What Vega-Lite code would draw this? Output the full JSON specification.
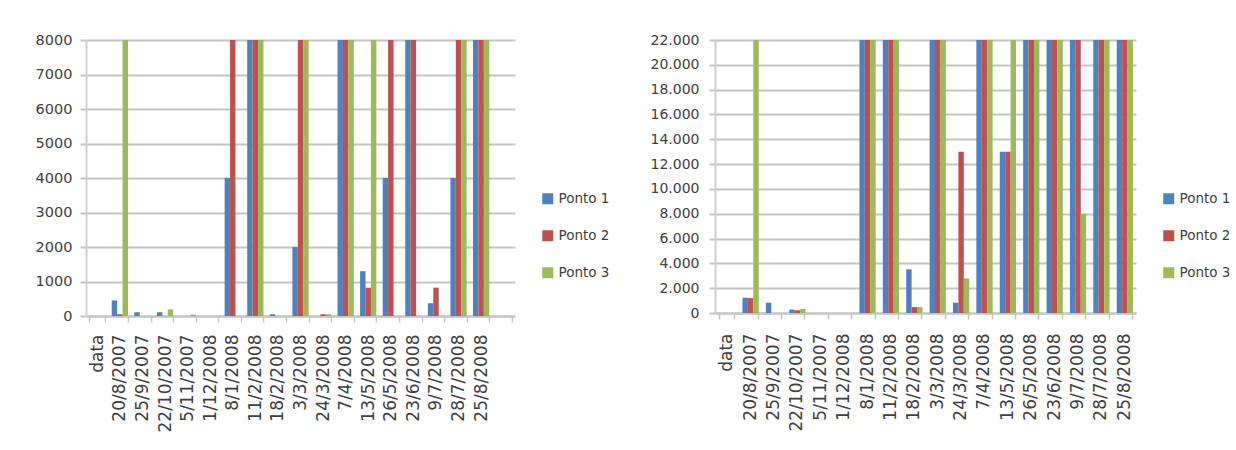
{
  "$schema": "https://vega.github.io/schema/vega-lite/v6.json",
  "background": "white",
  "padding": {"left": 35, "top": 32, "right": 0, "bottom": 0},
  "datasets": {
    "left": [
      {"dt": "data", "ponto": "Ponto 1", "valor": 0}, {"dt": "data", "ponto": "Ponto 2", "valor": 0}, {"dt": "data", "ponto": "Ponto 3", "valor": 0},
      {"dt": "20/8/2007", "ponto": "Ponto 1", "valor": 450}, {"dt": "20/8/2007", "ponto": "Ponto 2", "valor": 50}, {"dt": "20/8/2007", "ponto": "Ponto 3", "valor": 8000},
      {"dt": "25/9/2007", "ponto": "Ponto 1", "valor": 110}, {"dt": "25/9/2007", "ponto": "Ponto 2", "valor": 0}, {"dt": "25/9/2007", "ponto": "Ponto 3", "valor": 0},
      {"dt": "22/10/2007", "ponto": "Ponto 1", "valor": 110}, {"dt": "22/10/2007", "ponto": "Ponto 2", "valor": 0}, {"dt": "22/10/2007", "ponto": "Ponto 3", "valor": 190},
      {"dt": "5/11/2007", "ponto": "Ponto 1", "valor": 0}, {"dt": "5/11/2007", "ponto": "Ponto 2", "valor": 0}, {"dt": "5/11/2007", "ponto": "Ponto 3", "valor": 40},
      {"dt": "1/12/2008", "ponto": "Ponto 1", "valor": 0}, {"dt": "1/12/2008", "ponto": "Ponto 2", "valor": 0}, {"dt": "1/12/2008", "ponto": "Ponto 3", "valor": 0},
      {"dt": "8/1/2008", "ponto": "Ponto 1", "valor": 4000}, {"dt": "8/1/2008", "ponto": "Ponto 2", "valor": 8000}, {"dt": "8/1/2008", "ponto": "Ponto 3", "valor": 0},
      {"dt": "11/2/2008", "ponto": "Ponto 1", "valor": 8000}, {"dt": "11/2/2008", "ponto": "Ponto 2", "valor": 8000}, {"dt": "11/2/2008", "ponto": "Ponto 3", "valor": 8000},
      {"dt": "18/2/2008", "ponto": "Ponto 1", "valor": 50}, {"dt": "18/2/2008", "ponto": "Ponto 2", "valor": 0}, {"dt": "18/2/2008", "ponto": "Ponto 3", "valor": 0},
      {"dt": "3/3/2008", "ponto": "Ponto 1", "valor": 2000}, {"dt": "3/3/2008", "ponto": "Ponto 2", "valor": 8000}, {"dt": "3/3/2008", "ponto": "Ponto 3", "valor": 8000},
      {"dt": "24/3/2008", "ponto": "Ponto 1", "valor": 0}, {"dt": "24/3/2008", "ponto": "Ponto 2", "valor": 50}, {"dt": "24/3/2008", "ponto": "Ponto 3", "valor": 50},
      {"dt": "7/4/2008", "ponto": "Ponto 1", "valor": 8000}, {"dt": "7/4/2008", "ponto": "Ponto 2", "valor": 8000}, {"dt": "7/4/2008", "ponto": "Ponto 3", "valor": 8000},
      {"dt": "13/5/2008", "ponto": "Ponto 1", "valor": 1300}, {"dt": "13/5/2008", "ponto": "Ponto 2", "valor": 820}, {"dt": "13/5/2008", "ponto": "Ponto 3", "valor": 8000},
      {"dt": "26/5/2008", "ponto": "Ponto 1", "valor": 4000}, {"dt": "26/5/2008", "ponto": "Ponto 2", "valor": 8000}, {"dt": "26/5/2008", "ponto": "Ponto 3", "valor": 0},
      {"dt": "23/6/2008", "ponto": "Ponto 1", "valor": 8000}, {"dt": "23/6/2008", "ponto": "Ponto 2", "valor": 8000}, {"dt": "23/6/2008", "ponto": "Ponto 3", "valor": 0},
      {"dt": "9/7/2008", "ponto": "Ponto 1", "valor": 370}, {"dt": "9/7/2008", "ponto": "Ponto 2", "valor": 820}, {"dt": "9/7/2008", "ponto": "Ponto 3", "valor": 0},
      {"dt": "28/7/2008", "ponto": "Ponto 1", "valor": 4000}, {"dt": "28/7/2008", "ponto": "Ponto 2", "valor": 8000}, {"dt": "28/7/2008", "ponto": "Ponto 3", "valor": 8000},
      {"dt": "25/8/2008", "ponto": "Ponto 1", "valor": 8000}, {"dt": "25/8/2008", "ponto": "Ponto 2", "valor": 8000}, {"dt": "25/8/2008", "ponto": "Ponto 3", "valor": 8000}
    ],
    "right": [
      {"dt": "data", "ponto": "Ponto 1", "valor": 0}, {"dt": "data", "ponto": "Ponto 2", "valor": 0}, {"dt": "data", "ponto": "Ponto 3", "valor": 0},
      {"dt": "20/8/2007", "ponto": "Ponto 1", "valor": 1230}, {"dt": "20/8/2007", "ponto": "Ponto 2", "valor": 1200}, {"dt": "20/8/2007", "ponto": "Ponto 3", "valor": 22000},
      {"dt": "25/9/2007", "ponto": "Ponto 1", "valor": 830}, {"dt": "25/9/2007", "ponto": "Ponto 2", "valor": 0}, {"dt": "25/9/2007", "ponto": "Ponto 3", "valor": 0},
      {"dt": "22/10/2007", "ponto": "Ponto 1", "valor": 280}, {"dt": "22/10/2007", "ponto": "Ponto 2", "valor": 220}, {"dt": "22/10/2007", "ponto": "Ponto 3", "valor": 330},
      {"dt": "5/11/2007", "ponto": "Ponto 1", "valor": 0}, {"dt": "5/11/2007", "ponto": "Ponto 2", "valor": 0}, {"dt": "5/11/2007", "ponto": "Ponto 3", "valor": 0},
      {"dt": "1/12/2008", "ponto": "Ponto 1", "valor": 0}, {"dt": "1/12/2008", "ponto": "Ponto 2", "valor": 0}, {"dt": "1/12/2008", "ponto": "Ponto 3", "valor": 0},
      {"dt": "8/1/2008", "ponto": "Ponto 1", "valor": 22000}, {"dt": "8/1/2008", "ponto": "Ponto 2", "valor": 22000}, {"dt": "8/1/2008", "ponto": "Ponto 3", "valor": 22000},
      {"dt": "11/2/2008", "ponto": "Ponto 1", "valor": 22000}, {"dt": "11/2/2008", "ponto": "Ponto 2", "valor": 22000}, {"dt": "11/2/2008", "ponto": "Ponto 3", "valor": 22000},
      {"dt": "18/2/2008", "ponto": "Ponto 1", "valor": 3520}, {"dt": "18/2/2008", "ponto": "Ponto 2", "valor": 480}, {"dt": "18/2/2008", "ponto": "Ponto 3", "valor": 480},
      {"dt": "3/3/2008", "ponto": "Ponto 1", "valor": 22000}, {"dt": "3/3/2008", "ponto": "Ponto 2", "valor": 22000}, {"dt": "3/3/2008", "ponto": "Ponto 3", "valor": 22000},
      {"dt": "24/3/2008", "ponto": "Ponto 1", "valor": 830}, {"dt": "24/3/2008", "ponto": "Ponto 2", "valor": 13000}, {"dt": "24/3/2008", "ponto": "Ponto 3", "valor": 2790},
      {"dt": "7/4/2008", "ponto": "Ponto 1", "valor": 22000}, {"dt": "7/4/2008", "ponto": "Ponto 2", "valor": 22000}, {"dt": "7/4/2008", "ponto": "Ponto 3", "valor": 22000},
      {"dt": "13/5/2008", "ponto": "Ponto 1", "valor": 13000}, {"dt": "13/5/2008", "ponto": "Ponto 2", "valor": 13000}, {"dt": "13/5/2008", "ponto": "Ponto 3", "valor": 22000},
      {"dt": "26/5/2008", "ponto": "Ponto 1", "valor": 22000}, {"dt": "26/5/2008", "ponto": "Ponto 2", "valor": 22000}, {"dt": "26/5/2008", "ponto": "Ponto 3", "valor": 22000},
      {"dt": "23/6/2008", "ponto": "Ponto 1", "valor": 22000}, {"dt": "23/6/2008", "ponto": "Ponto 2", "valor": 22000}, {"dt": "23/6/2008", "ponto": "Ponto 3", "valor": 22000},
      {"dt": "9/7/2008", "ponto": "Ponto 1", "valor": 22000}, {"dt": "9/7/2008", "ponto": "Ponto 2", "valor": 22000}, {"dt": "9/7/2008", "ponto": "Ponto 3", "valor": 8000},
      {"dt": "28/7/2008", "ponto": "Ponto 1", "valor": 22000}, {"dt": "28/7/2008", "ponto": "Ponto 2", "valor": 22000}, {"dt": "28/7/2008", "ponto": "Ponto 3", "valor": 22000},
      {"dt": "25/8/2008", "ponto": "Ponto 1", "valor": 22000}, {"dt": "25/8/2008", "ponto": "Ponto 2", "valor": 22000}, {"dt": "25/8/2008", "ponto": "Ponto 3", "valor": 22000}
    ]
  },
  "config": {
    "font": "DejaVu Sans",
    "view": {"stroke": null},
    "axis": {"title": null, "labelFont": "DejaVu Sans", "labelColor": "#404040"},
    "axisX": {
      "labelAngle": -90, "labelAlign": "right", "labelBaseline": "middle", "labelFontSize": 17,
      "labelOverlap": false, "labelLimit": 300, "tickBand": "extent", "tickSize": 6,
      "tickColor": "#C4C4C4", "tickWidth": 1.5, "domainColor": "#C4C4C4", "domainWidth": 2, "grid": false
    },
    "axisY": {
      "labelFontSize": 14.5, "tickSize": 6, "labelPadding": 8, "domainColor": "#D0D0D0", "domainWidth": 2,
      "gridColor": "#C4C4C4", "gridWidth": 2, "tickColor": "#C4C4C4", "tickWidth": 2
    },
    "legend": {
      "orient": "none", "title": null, "symbolType": "square", "symbolSize": 121, "symbolStrokeWidth": 0,
      "labelFont": "DejaVu Sans", "labelFontSize": 13.5, "labelColor": "#404040", "rowPadding": 22, "labelOffset": 4, "padding": 0
    }
  },
  "bounds": "flush",
  "spacing": 200,
  "resolve": {"scale": {"x": "independent", "y": "independent", "color": "independent"}, "legend": {"color": "independent"}},
  "hconcat": [
    {
      "width": 429, "height": 276,
      "data": {"name": "left"},
      "mark": {"type": "bar"},
      "encoding": {
        "x": {"field": "dt", "type": "nominal", "sort": null,
          "scale": {"domain": ["data","20/8/2007","25/9/2007","22/10/2007","5/11/2007","1/12/2008","8/1/2008","11/2/2008","18/2/2008","3/3/2008","24/3/2008","7/4/2008","13/5/2008","26/5/2008","23/6/2008","9/7/2008","28/7/2008","25/8/2008"," "], "paddingInner": 0.28, "paddingOuter": 0.14},
          "axis": {"labelPadding": 12}},
        "xOffset": {"field": "ponto", "type": "nominal", "scale": {"paddingInner": 0, "paddingOuter": 0}},
        "y": {"field": "valor", "type": "quantitative", "scale": {"domain": [0, 8000], "nice": false},
          "axis": {"values": [0,1000,2000,3000,4000,5000,6000,7000,8000], "format": "d"}},
        "color": {"field": "ponto", "type": "nominal",
          "scale": {"domain": ["Ponto 1","Ponto 2","Ponto 3"], "range": ["#4F81BD","#C0504D","#9BBB59"]},
          "legend": {"legendX": 455, "legendY": 152}}
      }
    },
    {
      "width": 421, "height": 273,
      "data": {"name": "right"},
      "mark": {"type": "bar"},
      "encoding": {
        "x": {"field": "dt", "type": "nominal", "sort": null,
          "scale": {"domain": ["data","20/8/2007","25/9/2007","22/10/2007","5/11/2007","1/12/2008","8/1/2008","11/2/2008","18/2/2008","3/3/2008","24/3/2008","7/4/2008","13/5/2008","26/5/2008","23/6/2008","9/7/2008","28/7/2008","25/8/2008"], "paddingInner": 0.35, "paddingOuter": 0.175},
          "axis": {"labelPadding": 14}},
        "xOffset": {"field": "ponto", "type": "nominal", "scale": {"paddingInner": 0, "paddingOuter": 0}},
        "y": {"field": "valor", "type": "quantitative", "scale": {"domain": [0, 22000], "nice": false},
          "axis": {"values": [0,2000,4000,6000,8000,10000,12000,14000,16000,18000,20000,22000], "labelExpr": "replace(format(datum.value, ','), ',', '.')", "labelFontSize": 14, "labelPadding": 10}},
        "color": {"field": "ponto", "type": "nominal",
          "scale": {"domain": ["Ponto 1","Ponto 2","Ponto 3"], "range": ["#4F81BD","#C0504D","#9BBB59"]},
          "legend": {"legendX": 447, "legendY": 152}}
      }
    }
  ]
}
